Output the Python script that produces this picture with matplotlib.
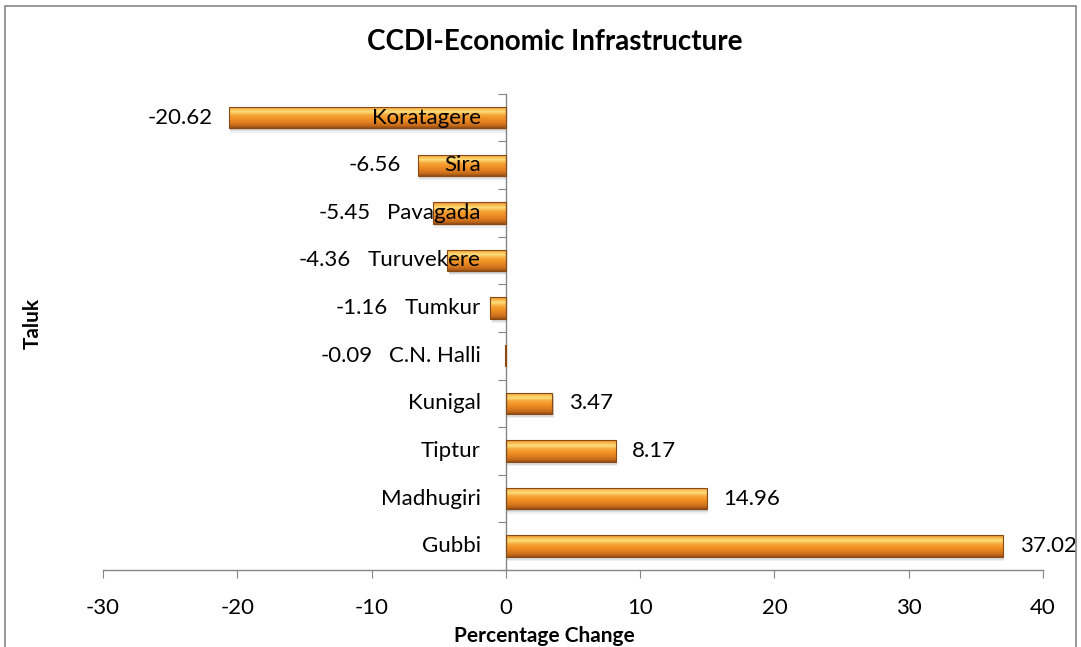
import numpy as np
import matplotlib
matplotlib.use('Agg')
import matplotlib.pyplot as plt
from matplotlib.patches import Rectangle
from matplotlib.colors import LinearSegmentedColormap
from matplotlib.transforms import offset_copy

plt.rcParams['font.family'] = ['Lato', 'DejaVu Sans']

# data, bottom to top
taluks = ['Gubbi', 'Madhugiri', 'Tiptur', 'Kunigal', 'C.N. Halli',
          'Tumkur', 'Turuvekere', 'Pavagada', 'Sira', 'Koratagere']
pct_change = [37.02, 14.96, 8.17, 3.47, -0.09, -1.16, -4.36, -5.45, -6.56, -20.62]
xticks = [-30, -20, -10, 0, 10, 20, 30, 40]

fig = plt.figure(figsize=(10.81, 6.47), dpi=100)
ax = fig.add_axes([0.0953, 0.119, 0.8696, 0.736])
FS = 16

y = np.arange(len(taluks))
h = 0.45
bars = ax.barh(y, pct_change, height=h, color='#f09530', edgecolor='none',
               linewidth=0, zorder=2)

# glossy orange gradient inside every bar
cmap = LinearSegmentedColormap.from_list('orng', [
    (0.0, '#e88a22'), (0.12, '#f7b850'), (0.25, '#fde07a'), (0.4, '#f6a83e'),
    (0.55, '#f29426'), (0.75, '#de7e20'), (0.9, '#c46a1a'), (1.0, '#944c14')])
grad = np.linspace(0, 1, 64).reshape(-1, 1)
for b, v, yy in zip(bars, pct_change, y):
    # soft shadow below the bar
    for k, a in [(0.09, 0.06), (0.06, 0.08), (0.03, 0.10)]:
        ax.add_patch(Rectangle((min(0, v) + 0.1, yy - h / 2 - k), abs(v), h,
                               color='#000000', alpha=a, lw=0, zorder=1))
    im = ax.imshow(grad, extent=(min(0, v), max(0, v), yy - h / 2, yy + h / 2),
                   cmap=cmap, aspect='auto', origin='upper', zorder=2.5,
                   interpolation='bilinear')
    im.set_clip_path(b)
    ax.add_patch(Rectangle((min(0, v), yy - h / 2), abs(v), h, fill=False,
                           edgecolor='#8a4a14', lw=0.8, zorder=3))

ax.set_xlim(-30, 40)
ax.set_ylim(-0.5, len(taluks) - 0.5)
ax.set_xticks(xticks)
ax.set_xticklabels([str(t) for t in xticks], fontsize=FS)
ax.set_yticks(np.arange(len(taluks) + 1) - 0.5)
ax.set_yticklabels([])

ax.spines['top'].set_visible(False)
ax.spines['right'].set_visible(False)
ax.spines['left'].set_position(('data', 0))
for s in ['left', 'bottom']:
    ax.spines[s].set_color('#868686')
    ax.spines[s].set_linewidth(1)
ax.tick_params(axis='y', length=6, color='#868686', direction='out')
ax.tick_params(axis='x', length=6, color='#868686', pad=14)

# category names next to the zero axis, drawn over the bars
name_tr = offset_copy(ax.transData, fig=fig, x=-18, y=0, units='points')
names = [ax.text(0, yy, t, transform=name_tr, ha='right', va='center',
                 fontsize=FS, zorder=6) for t, yy in zip(taluks, y)]

fig.canvas.draw()
rend = fig.canvas.get_renderer()
px = fig.dpi / 72.0
for v, yy, nm in zip(pct_change, y, names):
    if v < 0:
        end_px = ax.transData.transform((v, yy))[0] - 12 * px
        left_px = nm.get_window_extent(rend).x0 - 12 * px
        xr = min(end_px, left_px)
        xd = ax.transData.inverted().transform((xr, 0))[0]
        ax.text(xd, yy, f'{v:.2f}', ha='right', va='center', fontsize=FS, zorder=6)
    else:
        ax.annotate(f'{v:.2f}', (v, yy), xytext=(12, 0), textcoords='offset points',
                    ha='left', va='center', fontsize=FS, zorder=6)

fig.text(0.504, 0.017, 'Percentage Change', ha='center', va='center',
         fontsize=15, fontweight='bold')
fig.text(0.030, 0.50, 'Taluk', rotation=90, ha='center', va='center',
         fontsize=15, fontweight='bold')
fig.text(0.513, 0.935, 'CCDI-Economic Infrastructure', ha='center', va='center',
         fontsize=20, fontweight='bold')

fig.patches.append(Rectangle((0.005, -0.01), 0.99, 1.0, transform=fig.transFigure,
                             fill=False, edgecolor='#868686', lw=1.2))

fig.savefig('out.png', dpi=100)
